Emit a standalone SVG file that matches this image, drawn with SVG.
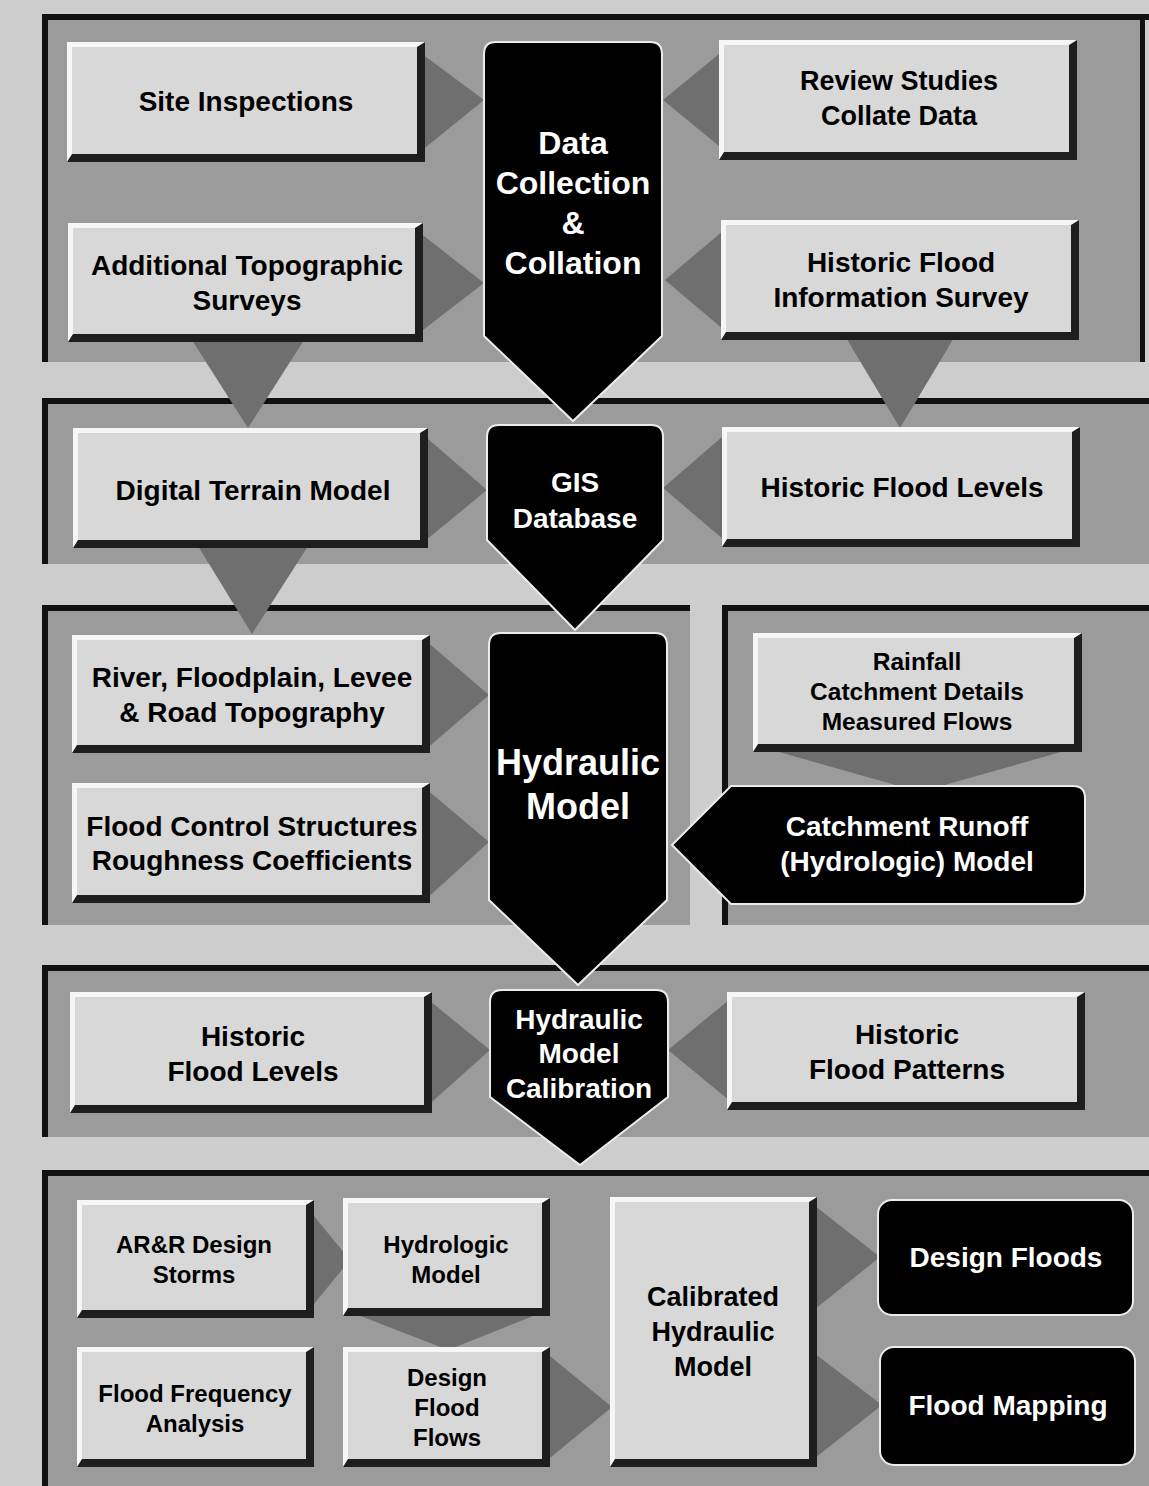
<svg xmlns="http://www.w3.org/2000/svg" width="1149" height="1486" viewBox="0 0 1149 1486">
<style>
.bg{fill:#cdcdcd}
.panel{fill:#9b9b9b}
.edge{fill:#111}
.shadow{fill:#1e1e1e}
.hl{fill:#f6f6f6}
.face{fill:#d8d8d8}
.conn{fill:#6f6f6f}
.dark{fill:#000;stroke:#ececec;stroke-width:2}
.t{font-family:"Liberation Sans",Arial,Helvetica,sans-serif;font-weight:bold;text-anchor:middle;fill:#000}
.w{fill:#fff}
</style>
<rect class="bg" x="0" y="0" width="1149" height="1486"/>

<g id="panels">
  <rect class="panel" x="42" y="14" width="1103" height="348"/>
  <rect class="edge" x="42" y="14" width="1107" height="6"/>
  <rect class="edge" x="42" y="14" width="6" height="348"/>
  <rect class="edge" x="1140" y="14" width="5" height="348"/>

  <rect class="panel" x="42" y="398" width="1107" height="166"/>
  <rect class="edge" x="42" y="398" width="1107" height="6"/>
  <rect class="edge" x="42" y="398" width="6" height="166"/>

  <rect class="panel" x="42" y="605" width="648" height="320"/>
  <rect class="edge" x="42" y="605" width="648" height="6"/>
  <rect class="edge" x="42" y="605" width="6" height="320"/>

  <rect class="panel" x="722" y="605" width="427" height="320"/>
  <rect class="edge" x="722" y="605" width="427" height="6"/>
  <rect class="edge" x="722" y="605" width="6" height="320"/>

  <rect class="panel" x="42" y="965" width="1107" height="172"/>
  <rect class="edge" x="42" y="965" width="1107" height="6"/>
  <rect class="edge" x="42" y="965" width="6" height="172"/>

  <rect class="panel" x="42" y="1170" width="1107" height="316"/>
  <rect class="edge" x="42" y="1170" width="1107" height="6"/>
  <rect class="edge" x="42" y="1170" width="6" height="316"/>
</g>

<g id="connectors">
  <polygon class="conn" points="410,45 410,160 484,100"/>
  <polygon class="conn" points="410,225 410,340 484,283"/>
  <polygon class="conn" points="730,45 730,155 663,100"/>
  <polygon class="conn" points="730,225 730,335 665,280"/>
  <polygon class="conn" points="192,340 304,340 248,428"/>
  <polygon class="conn" points="845,336 955,336 900,428"/>
  <polygon class="conn" points="420,432 420,545 487,490"/>
  <polygon class="conn" points="730,430 730,545 663,488"/>
  <polygon class="conn" points="198,546 308,546 252,634"/>
  <polygon class="conn" points="425,640 425,750 489,695"/>
  <polygon class="conn" points="425,788 425,900 489,842"/>
  <polygon class="conn" points="765,748 1075,748 920,792"/>
  <polygon class="conn" points="425,997 425,1108 490,1050"/>
  <polygon class="conn" points="735,995 735,1105 668,1050"/>
  <polygon class="conn" points="305,1205 305,1315 350,1260"/>
  <polygon class="conn" points="345,1310 548,1310 448,1350"/>
  <polygon class="conn" points="545,1352 545,1462 612,1407"/>
  <polygon class="conn" points="810,1202 810,1313 880,1257"/>
  <polygon class="conn" points="810,1350 810,1462 882,1405"/>
</g>

<!-- Panel 1 -->
<g id="site-inspections">
  <rect class="shadow" x="67" y="42" width="358" height="120"/>
  <polygon class="hl" points="67,42 425,42 417,47 72,47 72,154 67,162"/>
  <rect class="face" x="72" y="47" width="345" height="107"/>
  <text class="t" x="246" y="111" font-size="28">Site Inspections</text>
</g>
<g id="additional-topographic-surveys">
  <rect class="shadow" x="68" y="223" width="355" height="119"/>
  <polygon class="hl" points="68,223 423,223 415,228 73,228 73,334 68,342"/>
  <rect class="face" x="73" y="228" width="342" height="106"/>
  <text class="t" x="247" y="275" font-size="28">Additional Topographic</text>
  <text class="t" x="247" y="310" font-size="28">Surveys</text>
</g>
<g id="review-studies">
  <rect class="shadow" x="719" y="40" width="358" height="120"/>
  <polygon class="hl" points="719,40 1077,40 1069,45 724,45 724,152 719,160"/>
  <rect class="face" x="724" y="45" width="345" height="107"/>
  <text class="t" x="899" y="90" font-size="27">Review Studies</text>
  <text class="t" x="899" y="125" font-size="27">Collate Data</text>
</g>
<g id="historic-flood-information-survey">
  <rect class="shadow" x="721" y="220" width="358" height="120"/>
  <polygon class="hl" points="721,220 1079,220 1071,225 726,225 726,332 721,340"/>
  <rect class="face" x="726" y="225" width="345" height="107"/>
  <text class="t" x="901" y="272" font-size="28">Historic Flood</text>
  <text class="t" x="901" y="307" font-size="28">Information Survey</text>
</g>
<g id="data-collection">
  <path class="dark" d="M496,42 H650 Q662,42 662,54 V336 L573,421 L484,336 V54 Q484,42 496,42 Z"/>
  <text class="t w" x="573" y="154" font-size="32">Data</text>
  <text class="t w" x="573" y="194" font-size="32">Collection</text>
  <text class="t w" x="573" y="234" font-size="32">&amp;</text>
  <text class="t w" x="573" y="274" font-size="32">Collation</text>
</g>

<!-- Panel 2 -->
<g id="digital-terrain-model">
  <rect class="shadow" x="73" y="428" width="355" height="120"/>
  <polygon class="hl" points="73,428 428,428 420,433 78,433 78,540 73,548"/>
  <rect class="face" x="78" y="433" width="342" height="107"/>
  <text class="t" x="253" y="500" font-size="28">Digital Terrain Model</text>
</g>
<g id="historic-flood-levels-1">
  <rect class="shadow" x="722" y="427" width="358" height="120"/>
  <polygon class="hl" points="722,427 1080,427 1072,432 727,432 727,539 722,547"/>
  <rect class="face" x="727" y="432" width="345" height="107"/>
  <text class="t" x="902" y="497" font-size="28">Historic Flood Levels</text>
</g>
<g id="gis-database">
  <path class="dark" d="M499,425 H651 Q663,425 663,437 V540 L575,630 L487,540 V437 Q487,425 499,425 Z"/>
  <text class="t w" x="575" y="492" font-size="28">GIS</text>
  <text class="t w" x="575" y="528" font-size="28">Database</text>
</g>

<!-- Panel 3 -->
<g id="river-topography">
  <rect class="shadow" x="72" y="635" width="358" height="118"/>
  <polygon class="hl" points="72,635 430,635 422,640 77,640 77,745 72,753"/>
  <rect class="face" x="77" y="640" width="345" height="105"/>
  <text class="t" x="252" y="687" font-size="28">River, Floodplain, Levee</text>
  <text class="t" x="252" y="722" font-size="28">&amp; Road Topography</text>
</g>
<g id="flood-control-structures">
  <rect class="shadow" x="72" y="783" width="358" height="120"/>
  <polygon class="hl" points="72,783 430,783 422,788 77,788 77,895 72,903"/>
  <rect class="face" x="77" y="788" width="345" height="107"/>
  <text class="t" x="252" y="836" font-size="28">Flood Control Structures</text>
  <text class="t" x="252" y="870" font-size="28">Roughness Coefficients</text>
</g>
<g id="hydraulic-model">
  <path class="dark" d="M501,633 H655 Q667,633 667,645 V900 L578,985 L489,900 V645 Q489,633 501,633 Z"/>
  <text class="t w" x="578" y="775" font-size="36">Hydraulic</text>
  <text class="t w" x="578" y="819" font-size="36">Model</text>
</g>
<g id="rainfall">
  <rect class="shadow" x="753" y="633" width="329" height="119"/>
  <polygon class="hl" points="753,633 1082,633 1074,638 758,638 758,744 753,752"/>
  <rect class="face" x="758" y="638" width="316" height="106"/>
  <text class="t" x="917" y="670" font-size="24.5">Rainfall</text>
  <text class="t" x="917" y="700" font-size="24.5">Catchment Details</text>
  <text class="t" x="917" y="730" font-size="24.5">Measured Flows</text>
</g>
<g id="catchment-runoff-model">
  <path class="dark" d="M731,786 H1073 Q1085,786 1085,798 V892 Q1085,904 1073,904 H731 L672,845 Z"/>
  <text class="t w" x="907" y="836" font-size="28">Catchment Runoff</text>
  <text class="t w" x="907" y="871" font-size="28">(Hydrologic) Model</text>
</g>

<!-- Panel 4 -->
<g id="historic-flood-levels-2">
  <rect class="shadow" x="70" y="992" width="362" height="121"/>
  <polygon class="hl" points="70,992 432,992 424,997 75,997 75,1105 70,1113"/>
  <rect class="face" x="75" y="997" width="349" height="108"/>
  <text class="t" x="253" y="1046" font-size="28">Historic</text>
  <text class="t" x="253" y="1081" font-size="28">Flood Levels</text>
</g>
<g id="historic-flood-patterns">
  <rect class="shadow" x="727" y="992" width="358" height="118"/>
  <polygon class="hl" points="727,992 1085,992 1077,997 732,997 732,1102 727,1110"/>
  <rect class="face" x="732" y="997" width="345" height="105"/>
  <text class="t" x="907" y="1044" font-size="28">Historic</text>
  <text class="t" x="907" y="1079" font-size="28">Flood Patterns</text>
</g>
<g id="hydraulic-model-calibration">
  <path class="dark" d="M502,990 H656 Q668,990 668,1002 V1097 L580,1165 L490,1097 V1002 Q490,990 502,990 Z"/>
  <text class="t w" x="579" y="1029" font-size="28">Hydraulic</text>
  <text class="t w" x="579" y="1063" font-size="28">Model</text>
  <text class="t w" x="579" y="1098" font-size="28">Calibration</text>
</g>

<!-- Panel 5 -->
<g id="arr-design-storms">
  <rect class="shadow" x="77" y="1200" width="237" height="118"/>
  <polygon class="hl" points="77,1200 314,1200 306,1205 82,1205 82,1310 77,1318"/>
  <rect class="face" x="82" y="1205" width="224" height="105"/>
  <text class="t" x="194" y="1253" font-size="24">AR&amp;R Design</text>
  <text class="t" x="194" y="1283" font-size="24">Storms</text>
</g>
<g id="hydrologic-model">
  <rect class="shadow" x="343" y="1198" width="207" height="118"/>
  <polygon class="hl" points="343,1198 550,1198 542,1203 348,1203 348,1308 343,1316"/>
  <rect class="face" x="348" y="1203" width="194" height="105"/>
  <text class="t" x="446" y="1253" font-size="24">Hydrologic</text>
  <text class="t" x="446" y="1283" font-size="24">Model</text>
</g>
<g id="flood-frequency-analysis">
  <rect class="shadow" x="77" y="1347" width="237" height="120"/>
  <polygon class="hl" points="77,1347 314,1347 306,1352 82,1352 82,1459 77,1467"/>
  <rect class="face" x="82" y="1352" width="224" height="107"/>
  <text class="t" x="195" y="1402" font-size="24">Flood Frequency</text>
  <text class="t" x="195" y="1432" font-size="24">Analysis</text>
</g>
<g id="design-flood-flows">
  <rect class="shadow" x="343" y="1347" width="207" height="120"/>
  <polygon class="hl" points="343,1347 550,1347 542,1352 348,1352 348,1459 343,1467"/>
  <rect class="face" x="348" y="1352" width="194" height="107"/>
  <text class="t" x="447" y="1386" font-size="24">Design</text>
  <text class="t" x="447" y="1416" font-size="24">Flood</text>
  <text class="t" x="447" y="1446" font-size="24">Flows</text>
</g>
<g id="calibrated-hydraulic-model">
  <rect class="shadow" x="610" y="1197" width="207" height="270"/>
  <polygon class="hl" points="610,1197 817,1197 809,1202 615,1202 615,1459 610,1467"/>
  <rect class="face" x="615" y="1202" width="194" height="257"/>
  <text class="t" x="713" y="1306" font-size="27">Calibrated</text>
  <text class="t" x="713" y="1341" font-size="27">Hydraulic</text>
  <text class="t" x="713" y="1376" font-size="27">Model</text>
</g>
<g id="design-floods">
  <rect class="dark" x="878" y="1200" width="255" height="115" rx="14"/>
  <text class="t w" x="1006" y="1267" font-size="28">Design Floods</text>
</g>
<g id="flood-mapping">
  <rect class="dark" x="880" y="1347" width="255" height="118" rx="14"/>
  <text class="t w" x="1008" y="1415" font-size="28">Flood Mapping</text>
</g>
</svg>
